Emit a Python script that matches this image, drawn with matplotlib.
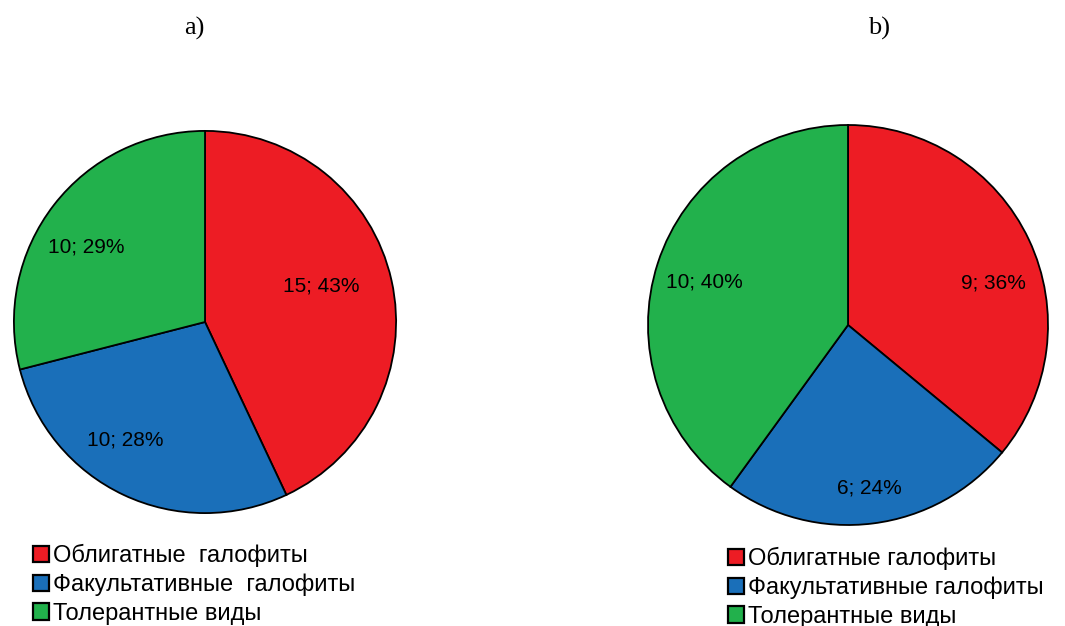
import matplotlib.pyplot as plt
from matplotlib.patches import Patch

plt.rcParams["font.family"] = ["Liberation Sans", "DejaVu Sans"]

# данные
pct_a = [43, 28, 29]
cnt_a = [15, 10, 10]
pct_b = [36, 24, 40]
cnt_b = [9, 6, 10]
labels_a = ["Облигатные  галофиты", "Факультативные  галофиты", "Толерантные виды"]
labels_b = ["Облигатные галофиты", "Факультативные галофиты", "Толерантные виды"]
colors = ["#ED1C24", "#1A6FB9", "#22B14C"]

# где стоят подписи долей (в радиусах круга), как в оригинале
lbl_pos_a = [(0.61, 0.19), (-0.415, -0.62), (-0.62, 0.39)]
lbl_pos_b = [(0.725, 0.21), (0.105, -0.815), (-0.72, 0.215)]

W, H = 1065, 626
fig = plt.figure(figsize=(W / 100, H / 100), dpi=100)


def draw_pie(box, pct, cnt, lbl_pos):
    ax = fig.add_axes(box)
    texts = [f"{c}; {p}%" for c, p in zip(cnt, pct)]
    _, tx = ax.pie(pct, colors=colors, labels=texts,
                   startangle=90, counterclock=False,
                   wedgeprops=dict(edgecolor="black", linewidth=1.3),
                   textprops=dict(fontsize=15))
    for t, p in zip(tx, lbl_pos):
        t.set_position(p)
        t.set_horizontalalignment("center")
        t.set_verticalalignment("center")
    ax.set_xlim(-1.01, 1.01)
    ax.set_ylim(-1.01, 1.01)
    ax.set_axis_off()
    return ax


# a) центр (205, 322), радиус 193
draw_pie([12 / W, (H - 515) / H, 386 / W, 386 / H], pct_a, cnt_a, lbl_pos_a)
# b) центр (848, 325), радиус 202
draw_pie([646 / W, (H - 527) / H, 404 / W, 404 / H], pct_b, cnt_b, lbl_pos_b)

fig.text(194 / W, 1 - 28 / H, "a)", fontsize=19, family="Liberation Serif",
         ha="center", va="center")
fig.text(879 / W, 1 - 28 / H, "b)", fontsize=19, family="Liberation Serif",
         ha="center", va="center")


def legend(labels, x, y):
    handles = [Patch(facecolor=c, edgecolor="black", linewidth=1.6) for c in colors]
    fig.legend(handles, labels, loc="upper left",
               bbox_to_anchor=(x / W, 1 - y / H), frameon=False,
               fontsize=17, handlelength=0.68, handleheight=0.68,
               handletextpad=0.17, labelspacing=0.28,
               borderpad=0, borderaxespad=0)


legend(labels_a, 33, 544)
legend(labels_b, 728, 547)

fig.savefig("out.png", dpi=100)
